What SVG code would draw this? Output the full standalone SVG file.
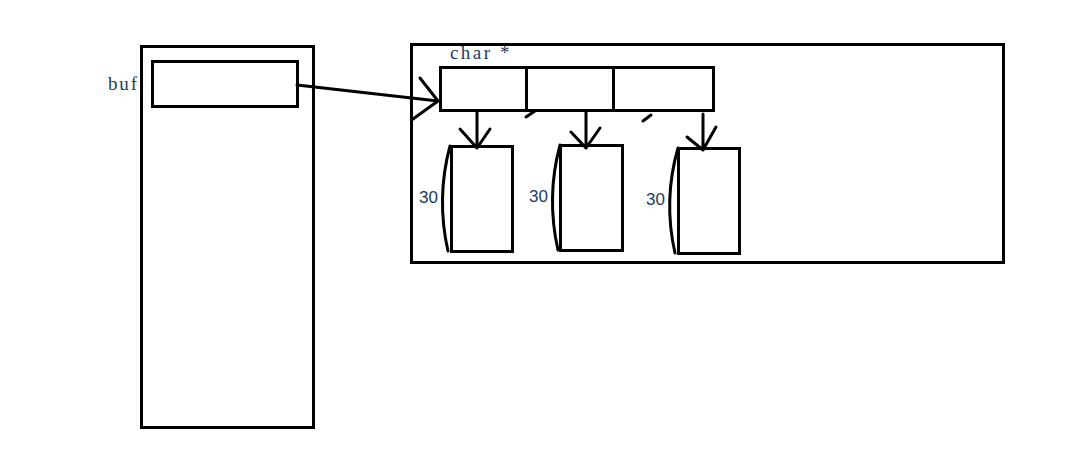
<svg xmlns="http://www.w3.org/2000/svg" width="1067" height="460" viewBox="0 0 1067 460">
<style>
.box{fill:none;stroke:#000;stroke-width:3}
.ln{fill:none;stroke:#000;stroke-width:3;stroke-linecap:round;stroke-linejoin:round}
.lbl{font-family:"Liberation Serif",serif;font-size:19px;fill:#1c3a63}
.num{font-family:"Liberation Sans",sans-serif;font-size:17px;fill:#1c3a63}
</style>
<rect width="1067" height="460" fill="#fff"/>
<g id="stack">
<rect class="box" x="141.5" y="46.5" width="172" height="381"/>
</g>
<g id="buf">
<rect class="box" x="152.5" y="61.5" width="145" height="45"/>
<text class="lbl" x="108" y="90" textLength="29">buf</text>
</g>
<g id="heap">
<rect class="box" x="411.5" y="44.5" width="592" height="218"/>
<text class="lbl" x="450" y="59"><tspan textLength="40">char</tspan><tspan x="500">*</tspan></text>
</g>
<g id="array">
<rect class="box" x="440.5" y="67.5" width="273" height="43"/>
<line class="box" x1="526.5" y1="67" x2="526.5" y2="110"/>
<line class="box" x1="613.5" y1="67" x2="613.5" y2="110"/>
</g>
<g id="block1">
<rect class="box" x="451.5" y="146.5" width="61" height="105"/>
<path class="ln" d="M450,146 Q436,198 448,251"/>
<text class="num" x="419" y="203">30</text>
</g>
<g id="block2">
<rect class="box" x="560.5" y="145.5" width="62" height="105"/>
<path class="ln" d="M560,145 Q546,197 558,250"/>
<text class="num" x="529" y="202">30</text>
</g>
<g id="block3">
<rect class="box" x="678.5" y="148.5" width="61" height="105"/>
<path class="ln" d="M678,148 Q663,200 675,253"/>
<text class="num" x="646" y="205">30</text>
</g>
<g id="connectors">
<path class="ln" d="M297,85 L438,101 M420,78 L438,101 L413,119"/>
<path class="ln" d="M477,111 L477,148 M460,129 L477,148 L490,129"/>
<path class="ln" d="M586,111 L586,148 M571,132 L586,148 L600,128"/>
<path class="ln" d="M703,114 L703,150 M687,137 L703,150 L716,127"/>
<path class="ln" d="M526,117 L535,111 M643,121 L651,115"/>
</g>
</svg>
